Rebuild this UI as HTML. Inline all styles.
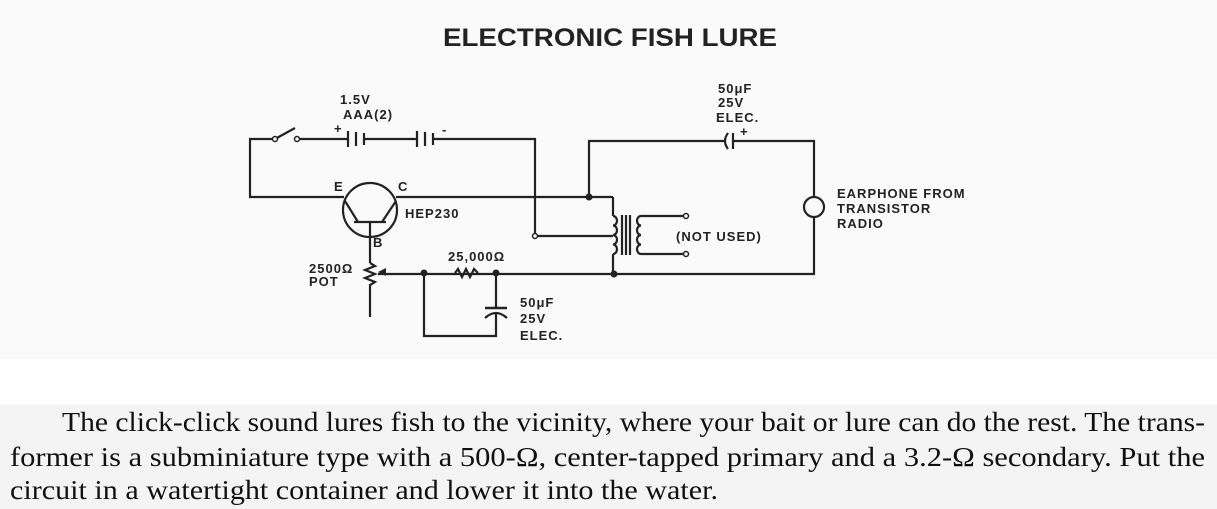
<!DOCTYPE html>
<html><head><meta charset="utf-8"><style>
html,body{margin:0;padding:0;background:#fff;}
svg{display:block;}
.t{font-family:"Liberation Sans",sans-serif;font-size:13px;font-weight:bold;fill:#222;letter-spacing:1px;}
.p{font-family:"Liberation Serif",serif;font-size:27px;fill:#111;}
</style></head><body>
<svg width="1217" height="509" viewBox="0 0 1217 509" xmlns="http://www.w3.org/2000/svg">
<rect x="0" y="0" width="1217" height="359" fill="#fafafa"/>
<rect x="0" y="359" width="1217" height="46" fill="#ffffff"/>
<rect x="0" y="405" width="1217" height="104" fill="#f4f4f4"/>
<text x="443" y="46" font-family="Liberation Sans,sans-serif" font-weight="bold" font-size="25" fill="#222" textLength="334" lengthAdjust="spacingAndGlyphs">ELECTRONIC FISH LURE</text>
<g stroke="#222" stroke-width="2.2" fill="none">
<path d="M275 139 H250 V197 H344"/>
<path d="M275 139 L295 128"/>
<path d="M297 139 H348 M364 139 H417 M433 139 H535 V236 H613"/>
<path d="M348 131 V147 M356 132 V146 M364 133 V145 M417 131 V147 M425 132 V146 M433 133 V145"/>
<circle cx="370" cy="210" r="27"/>
<path d="M345 201 L358 222 M354 222 H386 M382 222 L396 201 M370 222 V263 M396 197 H613"/>
<path d="M589 197 V141 H725 M733 141 H814 V197 M814 217 V274 H378"/>
<path d="M728 133 Q722 141 728 149 M733 133 V149"/>
<circle cx="814" cy="207" r="10"/>
<path d="M613 197 V216 M613 254 V274"/>
<path d="M613 216 a4 4.75 0 0 1 0 9.5 a4 4.75 0 0 1 0 9.5 a4 4.75 0 0 1 0 9.5 a4 4.75 0 0 1 0 9.5"/>
<path d="M622 215 V255 M626 215 V255 M630 215 V255"/>
<path d="M641 216 a4 4.75 0 0 0 0 9.5 a4 4.75 0 0 0 0 9.5 a4 4.75 0 0 0 0 9.5 a4 4.75 0 0 0 0 9.5"/>
<path d="M641 216 H684 M641 254 H684"/>
<path d="M370 263 L375 266 L365 270 L375 274 L365 278 L375 282 L370 285 V317"/>
<path d="M455 273 L458 269 L462 277 L466 269 L470 277 L474 269 L478 273"/>
<path d="M424 273 V336 H496 V313 M496 273 V308"/>
<path d="M485 308 H507" stroke-width="2.5"/>
<path d="M485 318 Q496 308 507 318"/>
</g>
<path d="M378 272 L386 268 L386 276 Z" fill="#222"/>
<g fill="#222">
<circle cx="589" cy="197" r="3.5"/><circle cx="614" cy="274" r="3.5"/>
<circle cx="424" cy="273" r="3.5"/><circle cx="496" cy="273" r="3.5"/>
</g>
<g fill="#fff" stroke="#222" stroke-width="1.5">
<circle cx="275" cy="139" r="2.5"/><circle cx="297" cy="139" r="2.5"/>
<circle cx="535" cy="236" r="2.5"/><circle cx="686" cy="216" r="2.5"/><circle cx="686" cy="254" r="2.5"/>
</g>
<text class="t" x="340" y="104">1.5V</text>
<text class="t" x="343" y="119">AAA(2)</text>
<text class="t" x="334" y="133">+</text>
<text class="t" x="442" y="134">-</text>
<text class="t" x="334" y="191">E</text>
<text class="t" x="398" y="191">C</text>
<text class="t" x="405" y="218">HEP230</text>
<text class="t" x="373" y="247">B</text>
<text class="t" x="309" y="273">2500Ω</text>
<text class="t" x="309" y="286">POT</text>
<text class="t" x="448" y="261">25,000Ω</text>
<text class="t" x="520" y="307">50μF</text>
<text class="t" x="520" y="323">25V</text>
<text class="t" x="520" y="340">ELEC.</text>
<text class="t" x="718" y="93">50μF</text>
<text class="t" x="718" y="107">25V</text>
<text class="t" x="716" y="122">ELEC.</text>
<text class="t" x="740" y="136">+</text>
<text class="t" x="676" y="241">(NOT USED)</text>
<text class="t" x="837" y="198">EARPHONE  FROM</text>
<text class="t" x="837" y="213">TRANSISTOR</text>
<text class="t" x="837" y="228">RADIO</text>
<text class="p" x="62" y="431" textLength="1143" lengthAdjust="spacingAndGlyphs">The click-click sound lures fish to the vicinity, where your bait or lure can do the rest. The trans-</text>
<text class="p" x="10" y="466" textLength="1195" lengthAdjust="spacingAndGlyphs">former is a subminiature type with a 500-Ω, center-tapped primary and a 3.2-Ω secondary. Put the</text>
<text class="p" x="10" y="499" textLength="708" lengthAdjust="spacingAndGlyphs">circuit in a watertight container and lower it into the water.</text>
</svg>
</body></html>
